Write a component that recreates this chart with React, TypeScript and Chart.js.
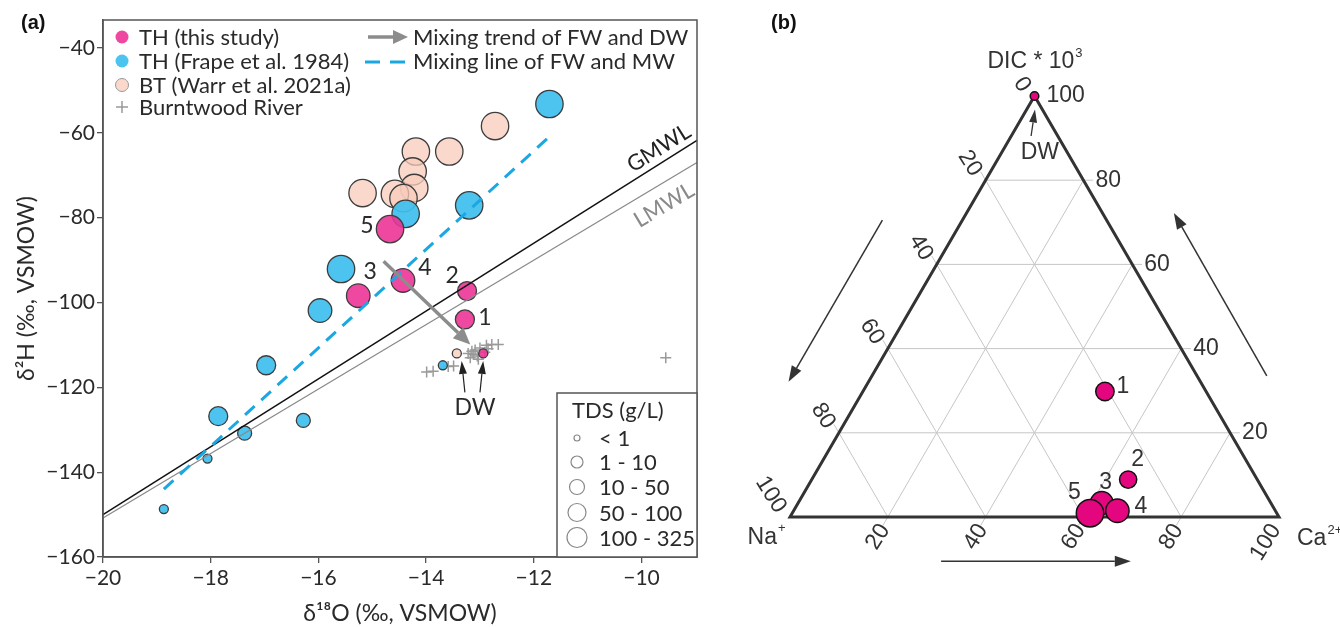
import React, { useEffect, useRef } from "react";
import { Chart, registerables } from "chart.js";

Chart.register(...registerables);

const SANS = "Lato, 'Open Sans', sans-serif";
const ARIAL = "'Liberation Sans', Arial, sans-serif";

// ---------------- Panel (a) data ----------------
const xTicksA = [-20, -18, -16, -14, -12, -10];
const yTicksA = [-160, -140, -120, -100, -80, -60, -40];
const tdsClasses = ["< 1", "1 - 10", "10 - 50", "50 - 100", "100 - 325"];

// TH (this study)
const thStudyId = ["1", "2", "3", "4", "5", "DW"];
const thStudyO = [-13.28, -13.24, -15.26, -14.43, -14.67, -12.94];
const thStudyH = [-104.0, -97.3, -98.4, -94.8, -82.7, -112.0];
const thStudyTds = [2, 2, 3, 3, 4, 0];

// TH (Frape et al. 1984)
const frapeO = [-11.71, -13.2, -14.38, -15.58, -15.97, -16.97, -17.86, -16.28, -17.37, -18.06, -18.87, -13.69];
const frapeH = [-53.2, -77.1, -79.1, -92.1, -101.9, -114.8, -126.8, -127.8, -130.8, -136.8, -148.7, -114.8];
const frapeTds = [4, 4, 4, 4, 3, 2, 2, 1, 1, 0, 0, 0];

// BT (Warr et al. 2021a)
const btO = [-12.72, -14.19, -13.57, -14.25, -14.22, -15.18, -14.58, -14.42, -13.43];
const btH = [-58.4, -64.4, -64.4, -69.1, -73.0, -74.2, -74.4, -75.4, -112.0];
const btTds = [4, 4, 4, 4, 4, 4, 4, 4, 0];

// Burntwood River
const riverO = [-13.99, -13.87, -13.59, -13.49, -13.18, -13.22, -13.12, -13.09, -13.0, -13.03, -12.88, -12.78, -12.66, -12.91, -12.85, -13.05, -13.15, -9.55];
const riverH = [-116.4, -116.2, -115.1, -115.0, -113.0, -112.0, -112.2, -111.2, -110.7, -113.4, -110.1, -109.9, -109.9, -111.7, -110.9, -112.6, -111.5, -113.0];

// Lines
const gmwlO = [-20, -8.97];
const gmwlH = [-150.0, -61.76];
const lmwlO = [-20, -8.97];
const lmwlH = [-150.8, -67.0];
const mixO = [-18.87, -11.71];
const mixH = [-144.0, -60.9];
const trendO = [-14.79, -13.18];
const trendH = [-90.3, -109.9];
const dwArrowTailO = [-13.28, -13.0];
const dwArrowTipO = [-13.34, -12.94];
const dwArrowTailH = -121.2;
const dwArrowTipH = -113.8;
const dwLabelA = { o: -13.09, h: -124.7 };

// ---------------- Panel (b) data ----------------
const ternTicks = [0, 20, 40, 60, 80, 100];
const ternId = ["1", "2", "3", "4", "5", "DW"];
const ternCa = [49.5, 64.7, 62.1, 66.2, 60.9, 0];
const ternDIC = [29.8, 8.9, 3.3, 1.5, 0.9, 100];
const ternNa = [20.7, 26.4, 34.6, 32.3, 38.2, 0];

// ---------------- styles ----------------
const tdsRadius = [4.5, 7, 9.5, 11.8, 13.7];
const ternRadius = [9.2, 8.6, 11.5, 11.7, 13.7, 4.3];
const legendRadius = [3, 6, 7.5, 9, 10];
const labelOffA: Record<string, [number, number]> = {
  "1": [20, -2],
  "2": [-15, -15],
  "3": [12, -24],
  "4": [22, -13],
  "5": [-23, -4],
};
const labelOffB: Record<string, [number, number]> = {
  "1": [18, -5],
  "2": [9.5, -20],
  "3": [4, -20],
  "4": [23.5, -4],
  "5": [-15.5, -20.5],
};
const MAGENTA_A = "rgba(236, 52, 150, 0.9)";
const BLUE_A = "rgba(62, 191, 238, 0.93)";
const PEACH_A = "rgba(248, 204, 187, 0.75)";
const MAGENTA_B = "#E4067F";
const TXT = "#2a2a2a";

function drawArrow(ctx: CanvasRenderingContext2D, x1: number, y1: number, x2: number, y2: number, color: string, lw: number, headLen: number, headW: number) {
  const ang = Math.atan2(y2 - y1, x2 - x1);
  const bx = x2 - headLen * Math.cos(ang);
  const by = y2 - headLen * Math.sin(ang);
  ctx.strokeStyle = color;
  ctx.lineWidth = lw;
  ctx.beginPath();
  ctx.moveTo(x1, y1);
  ctx.lineTo(bx, by);
  ctx.stroke();
  ctx.fillStyle = color;
  ctx.beginPath();
  ctx.moveTo(x2, y2);
  ctx.lineTo(bx + (headW / 2) * Math.sin(ang), by - (headW / 2) * Math.cos(ang));
  ctx.lineTo(bx - (headW / 2) * Math.sin(ang), by + (headW / 2) * Math.cos(ang));
  ctx.closePath();
  ctx.fill();
}

const fmtMinus = (v: number) => (v < 0 ? "\u2212" + Math.abs(v) : String(v));

const panelAPlugin = {
  id: "panelA",
  afterDatasetsDraw(chart: any) {
    const { ctx, chartArea: ca, scales } = chart;
    const px = (o: number) => scales.x.getPixelForValue(o);
    const py = (h: number) => scales.y.getPixelForValue(h);
    ctx.save();
    // frame
    ctx.strokeStyle = "#555";
    ctx.lineWidth = 1.5;
    ctx.strokeRect(ca.left, ca.top, ca.right - ca.left, ca.bottom - ca.top);

    // mixing trend arrow
    drawArrow(ctx, px(trendO[0]), py(trendH[0]), px(trendO[1]), py(trendH[1]), "#8c8c8c", 3.5, 17, 15);

    // DW arrows
    for (let i = 0; i < dwArrowTailO.length; i++) {
      drawArrow(ctx, px(dwArrowTailO[i]), py(dwArrowTailH), px(dwArrowTipO[i]), py(dwArrowTipH), "#222", 1.2, 13, 8);
    }
    ctx.fillStyle = TXT;
    ctx.font = `23px ${SANS}`;
    ctx.textAlign = "center";
    ctx.textBaseline = "middle";
    ctx.fillText("DW", px(dwLabelA.o), py(dwLabelA.h));

    // sample numbers
    thStudyId.forEach((id, i) => {
      const off = labelOffA[id];
      if (!off) return;
      ctx.fillText(id, px(thStudyO[i]) + off[0], py(thStudyH[i]) + off[1]);
    });

    // GMWL / LMWL labels
    ctx.font = `22px ${SANS}`;
    const slopeG = (py(gmwlH[1]) - py(gmwlH[0])) / (px(gmwlO[1]) - px(gmwlO[0]));
    const slopeL = (py(lmwlH[1]) - py(lmwlH[0])) / (px(lmwlO[1]) - px(lmwlO[0]));
    const gx = 659;
    const gy = py(gmwlH[0]) + slopeG * (gx - px(gmwlO[0])) - 16;
    ctx.save();
    ctx.translate(gx, gy);
    ctx.rotate(Math.atan(slopeG));
    ctx.fillStyle = "#222";
    ctx.fillText("GMWL", 0, 0);
    ctx.restore();
    const lx = 664;
    const ly = py(lmwlH[0]) + slopeL * (lx - px(lmwlO[0])) + 23;
    ctx.save();
    ctx.translate(lx, ly);
    ctx.rotate(Math.atan(slopeL));
    ctx.fillStyle = "#8a8a8a";
    ctx.fillText("LMWL", 0, 0);
    ctx.restore();

    // top-left legend
    ctx.textAlign = "left";
    ctx.font = `22px ${SANS}`;
    const rows = [
      { y: 37, label: "TH (this study)", fill: MAGENTA_A, stroke: null },
      { y: 61, label: "TH (Frape et al. 1984)", fill: BLUE_A, stroke: null },
      { y: 85, label: "BT (Warr et al. 2021a)", fill: PEACH_A, stroke: "#999" },
    ];
    for (const r of rows) {
      ctx.beginPath();
      ctx.arc(122, r.y, 6.5, 0, Math.PI * 2);
      ctx.fillStyle = r.fill;
      ctx.fill();
      if (r.stroke) {
        ctx.strokeStyle = r.stroke;
        ctx.lineWidth = 1;
        ctx.stroke();
      }
      ctx.fillStyle = TXT;
      ctx.fillText(r.label, 139, r.y + 1);
    }
    ctx.strokeStyle = "#999";
    ctx.lineWidth = 1.5;
    ctx.beginPath();
    ctx.moveTo(116, 107);
    ctx.lineTo(128, 107);
    ctx.moveTo(122, 101);
    ctx.lineTo(122, 113);
    ctx.stroke();
    ctx.fillStyle = TXT;
    ctx.fillText("Burntwood River", 139, 108);

    drawArrow(ctx, 368, 37, 408, 37, "#8c8c8c", 3.5, 15, 14);
    ctx.fillStyle = TXT;
    ctx.fillText("Mixing trend of FW and DW", 413, 38);
    ctx.strokeStyle = "#1AA7E2";
    ctx.lineWidth = 3;
    ctx.beginPath();
    ctx.moveTo(365, 62);
    ctx.lineTo(380, 62);
    ctx.moveTo(390, 62);
    ctx.lineTo(405, 62);
    ctx.stroke();
    ctx.fillText("Mixing line of FW and MW", 413, 62);

    // TDS legend
    const bx0 = 557, by0 = 393, bx1 = ca.right, by1 = ca.bottom;
    ctx.fillStyle = "#fff";
    ctx.fillRect(bx0, by0, bx1 - bx0, by1 - by0);
    ctx.strokeStyle = "#555";
    ctx.lineWidth = 1.5;
    ctx.strokeRect(bx0, by0, bx1 - bx0, by1 - by0);
    ctx.fillStyle = TXT;
    ctx.font = `22px ${SANS}`;
    ctx.fillText("TDS (g/L)", 572, 411);
    const rowY = [438, 462, 487, 512.5, 537.5];
    tdsClasses.forEach((t, i) => {
      ctx.beginPath();
      ctx.arc(577, rowY[i], legendRadius[i], 0, Math.PI * 2);
      ctx.strokeStyle = "#888";
      ctx.lineWidth = 1.2;
      ctx.stroke();
      ctx.fillStyle = TXT;
      ctx.fillText(t, 599, rowY[i] + 1);
    });
    ctx.restore();
  },
  afterDraw(chart: any) {
    const { ctx } = chart;
    ctx.save();
    ctx.fillStyle = "#111";
    ctx.font = `bold 20px ${ARIAL}`;
    ctx.textAlign = "left";
    ctx.textBaseline = "middle";
    ctx.fillText("(a)", 21, 23);
    ctx.restore();
  },
};

const pts = (xs: number[], ys: number[]) => xs.map((x, i) => ({ x, y: ys[i] }));

function configA(): any {
  const circle = (xs: number[], ys: number[], tds: number[], color: string) => ({
    type: "scatter",
    data: pts(xs, ys),
    backgroundColor: color,
    borderColor: "#3d3d3d",
    borderWidth: 1.3,
    pointRadius: (c: any) => tdsRadius[tds[c.dataIndex]],
    pointStyle: "circle",
    clip: false,
  });
  const line = (xs: number[], ys: number[], color: string, w: number, dash: number[] = []) => ({
    type: "line",
    data: pts(xs, ys),
    borderColor: color,
    borderWidth: w,
    borderDash: dash,
    pointRadius: 0,
    fill: false,
    tension: 0,
    clip: false,
  });
  return {
    type: "scatter",
    data: {
      datasets: [
        line(mixO, mixH, "#1AA7E2", 3, [13, 9]),
        line(gmwlO, gmwlH, "#111", 1.5),
        line(lmwlO, lmwlH, "#8a8a8a", 1.3),
        circle(thStudyO, thStudyH, thStudyTds, MAGENTA_A),
        circle(frapeO, frapeH, frapeTds, BLUE_A),
        circle(btO, btH, btTds, PEACH_A),
        {
          type: "scatter",
          data: pts(riverO, riverH),
          pointStyle: "cross",
          pointRadius: 5.5,
          borderColor: "#9a9a9a",
          borderWidth: 1.5,
          clip: false,
        },
      ],
    },
    options: {
      responsive: false,
      animation: false,
      devicePixelRatio: 1,
      layout: { padding: { top: 20, right: 23, left: 0, bottom: 0 } },
      plugins: { legend: { display: false }, tooltip: { enabled: false } },
      scales: {
        x: {
          type: "linear",
          min: -20,
          max: -8.97,
          afterBuildTicks: (s: any) => {
            s.ticks = xTicksA.map((v) => ({ value: v }));
          },
          afterFit: (s: any) => {
            s.height = 70;
          },
          grid: { drawOnChartArea: false, drawTicks: true, tickLength: 6, color: "#555", lineWidth: 1.3 },
          border: { display: true, color: "#555", width: 1.5 },
          ticks: { font: { family: SANS, size: 21 }, color: TXT, padding: 3, callback: (v: number) => fmtMinus(v) },
          title: {
            display: true,
            text: "\u03b4\u00b9\u2078O (\u2030, VSMOW)",
            font: { family: SANS, size: 23 },
            color: TXT,
            padding: { top: 0, bottom: 0 },
          },
        },
        y: {
          type: "linear",
          min: -160,
          max: -33.4,
          afterBuildTicks: (s: any) => {
            s.ticks = yTicksA.map((v) => ({ value: v }));
          },
          afterFit: (s: any) => {
            s.width = 103;
          },
          grid: { drawOnChartArea: false, drawTicks: true, tickLength: 6, color: "#555", lineWidth: 1.3 },
          border: { display: true, color: "#555", width: 1.5 },
          ticks: { font: { family: SANS, size: 21 }, color: TXT, padding: 2, callback: (v: number) => fmtMinus(v) },
          title: {
            display: true,
            text: "\u03b4\u00b2H (\u2030, VSMOW)",
            font: { family: SANS, size: 23 },
            color: TXT,
            padding: { top: 13, bottom: 0 },
          },
        },
      },
    },
    plugins: [panelAPlugin],
  };
}

// ---------------- Panel (b) ----------------
const ternXY = (ca: number, dic: number, na: number) => {
  const s = ca + dic + na;
  return { x: (ca + dic / 2) / s, y: dic / s };
};

const panelBPlugin = {
  id: "panelB",
  beforeDatasetsDraw(chart: any) {
    const { ctx, scales } = chart;
    const P = (ca: number, dic: number) => [
      scales.x.getPixelForValue((ca + dic / 2) / 100),
      scales.y.getPixelForValue(dic / 100),
    ];
    const seg = (a: number[], b: number[]) => {
      ctx.beginPath();
      ctx.moveTo(a[0], a[1]);
      ctx.lineTo(b[0], b[1]);
      ctx.stroke();
    };
    ctx.save();
    ctx.strokeStyle = "#c6c6c6";
    ctx.lineWidth = 1;
    for (const v of ternTicks.slice(1, 5)) {
      seg(P(0, v), P(100 - v + 2, v));
      seg(P(v, 100 - v), P(v, -2));
      seg(P(100 - v, 0), P(-2, 100 - v + 2));
    }
    // triangle
    ctx.strokeStyle = "#333";
    ctx.lineWidth = 3;
    ctx.lineJoin = "miter";
    const A = P(0, 0), B = P(100, 0), C = P(0, 100);
    ctx.beginPath();
    ctx.moveTo(A[0], A[1]);
    ctx.lineTo(B[0], B[1]);
    ctx.lineTo(C[0], C[1]);
    ctx.closePath();
    ctx.stroke();

    // tick labels
    ctx.fillStyle = "#333";
    ctx.font = `23px ${ARIAL}`;
    ctx.textBaseline = "middle";
    // right side (DIC)
    ctx.textAlign = "left";
    for (const v of ternTicks.slice(1)) {
      const p = P(100 - v, v);
      ctx.fillText(String(v), p[0] + 12, p[1]);
    }
    // left side (Na)
    const rot = (58 * Math.PI) / 180;
    ctx.textAlign = "right";
    for (const n of ternTicks) {
      const p = P(0, 100 - n);
      ctx.save();
      ctx.translate(p[0] - 9, p[1] - 6);
      ctx.rotate(rot);
      ctx.fillText(String(n), 0, 0);
      ctx.restore();
    }
    // bottom (Ca)
    for (const c of ternTicks.slice(1)) {
      const p = P(c, 0);
      ctx.save();
      ctx.translate(p[0] - 3, p[1] + 9);
      ctx.rotate(-rot);
      ctx.fillText(String(c), 0, 0);
      ctx.restore();
    }

    // apex titles
    ctx.textAlign = "left";
    const t1 = "DIC * 10";
    ctx.font = `23px ${ARIAL}`;
    const w1 = ctx.measureText(t1).width;
    ctx.font = `13px ${ARIAL}`;
    const w2 = ctx.measureText("3").width;
    const sx = C[0] - (w1 + w2) / 2;
    ctx.font = `23px ${ARIAL}`;
    ctx.fillText(t1, sx, C[1] - 34);
    ctx.font = `13px ${ARIAL}`;
    ctx.fillText("3", sx + w1 + 1, C[1] - 43);

    ctx.textAlign = "right";
    ctx.font = `23px ${ARIAL}`;
    ctx.fillText("Na", A[0] - 13, A[1] + 21);
    ctx.textAlign = "left";
    ctx.font = `13px ${ARIAL}`;
    ctx.fillText("+", A[0] - 12, A[1] + 11);

    ctx.font = `23px ${ARIAL}`;
    const wCa = ctx.measureText("Ca").width;
    ctx.fillText("Ca", B[0] + 18, B[1] + 22);
    ctx.font = `13px ${ARIAL}`;
    ctx.fillText("2+", B[0] + 19 + wCa, B[1] + 13);

    // direction arrows (in plot coordinates)
    const xs = scales.x, ys = scales.y;
    const arr = (a: number[], b: number[]) =>
      drawArrow(ctx, xs.getPixelForValue(a[0]), ys.getPixelForValue(a[1]), xs.getPixelForValue(b[0]), ys.getPixelForValue(b[1]), "#333", 1.5, 16, 11);
    arr([0.189, 0.705], [-0.003, 0.321]);
    arr([0.975, 0.335], [0.785, 0.722]);
    arr([0.309, -0.105], [0.697, -0.105]);
    // DW annotation
    drawArrow(ctx, xs.getPixelForValue(0.493), ys.getPixelForValue(0.905), xs.getPixelForValue(0.501), ys.getPixelForValue(0.968), "#333", 1.3, 13, 8);
    ctx.textAlign = "center";
    ctx.font = `23px ${ARIAL}`;
    ctx.fillText("DW", xs.getPixelForValue(0.511), ys.getPixelForValue(0.865));
    ctx.restore();
  },
  afterDatasetsDraw(chart: any) {
    const { ctx, scales } = chart;
    ctx.save();
    ctx.fillStyle = "#333";
    ctx.font = `23px ${ARIAL}`;
    ctx.textAlign = "center";
    ctx.textBaseline = "middle";
    ternId.forEach((id, i) => {
      const off = labelOffB[id];
      if (!off) return;
      const p = ternXY(ternCa[i], ternDIC[i], ternNa[i]);
      ctx.fillText(id, scales.x.getPixelForValue(p.x) + off[0], scales.y.getPixelForValue(p.y) + off[1]);
    });
    ctx.restore();
  },
  afterDraw(chart: any) {
    const { ctx } = chart;
    ctx.save();
    ctx.fillStyle = "#111";
    ctx.font = `bold 20px ${ARIAL}`;
    ctx.textAlign = "left";
    ctx.textBaseline = "middle";
    ctx.fillText("(b)", 51, 23);
    ctx.restore();
  },
};

function configB(): any {
  const data = ternId.map((_, i) => ternXY(ternCa[i], ternDIC[i], ternNa[i]));
  return {
    type: "scatter",
    data: {
      datasets: [
        {
          data,
          backgroundColor: MAGENTA_B,
          borderColor: "#111",
          borderWidth: 1.5,
          pointRadius: (c: any) => ternRadius[c.dataIndex],
          clip: false,
        },
      ],
    },
    options: {
      responsive: false,
      animation: false,
      devicePixelRatio: 1,
      layout: { padding: { left: 70, right: 61, top: 96, bottom: 110 } },
      plugins: { legend: { display: false }, tooltip: { enabled: false } },
      scales: {
        x: { type: "linear", min: 0, max: 1, display: false },
        y: { type: "linear", min: 0, max: 1, display: false },
      },
    },
    plugins: [panelBPlugin],
  };
}

export default function App() {
  const aRef = useRef<HTMLCanvasElement>(null);
  const bRef = useRef<HTMLCanvasElement>(null);
  useEffect(() => {
    const ca = new Chart(aRef.current as HTMLCanvasElement, configA());
    const cb = new Chart(bRef.current as HTMLCanvasElement, configB());
    return () => {
      ca.destroy();
      cb.destroy();
    };
  }, []);
  return (
    <div style={{ position: "fixed", left: 0, top: 0, width: 1340, height: 627, background: "#fff", overflow: "hidden" }}>
      <canvas ref={aRef} width={720} height={627} style={{ position: "absolute", left: 0, top: 0, width: 720, height: 627 }} />
      <canvas ref={bRef} width={620} height={627} style={{ position: "absolute", left: 720, top: 0, width: 620, height: 627 }} />
    </div>
  );
}
